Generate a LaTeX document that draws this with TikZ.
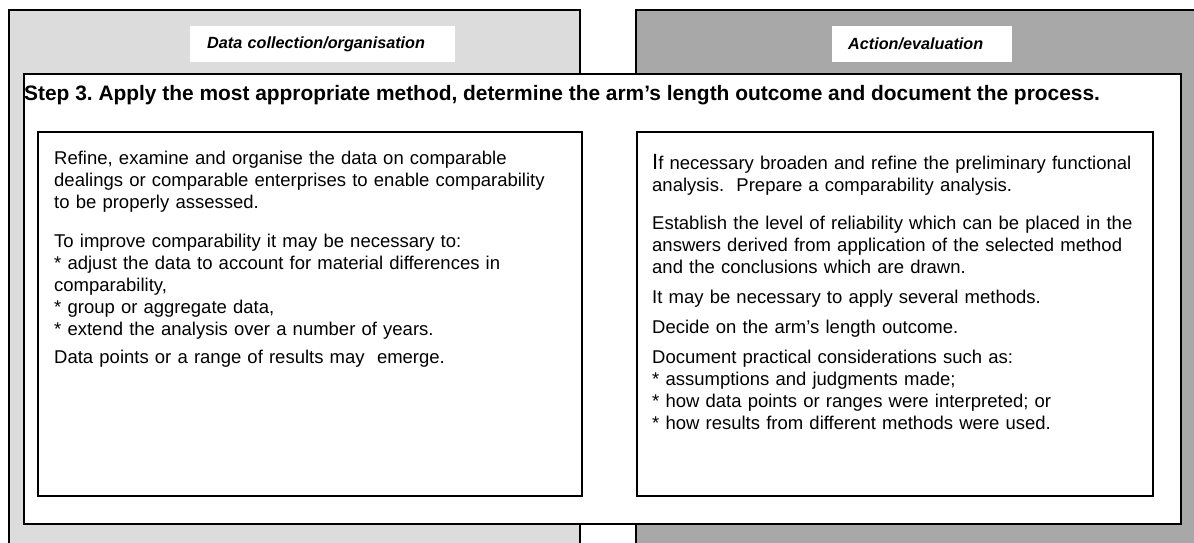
\documentclass[tikz,border=0pt]{standalone}
\usepackage{fontspec}
\setmainfont{Liberation Sans}
\frenchspacing
\definecolor{lightpanel}{HTML}{DCDCDC}
\definecolor{darkpanel}{HTML}{A8A8A8}
\newcommand{\bodysize}{\fontsize{18.5}{22}\selectfont}
\begin{document}
\begin{tikzpicture}[x=1pt,y=-1pt,
  panel/.style={draw=black,line width=1.6pt},
  framebox/.style={draw=black,fill=white,line width=1.6pt,inner sep=0pt,anchor=north west},
  labelbox/.style={fill=white,inner ysep=0pt,minimum height=36pt,anchor=north west,align=left,
     font=\bfseries\itshape\fontsize{16.2}{19}\selectfont},
  bodytext/.style={anchor=base west,inner sep=0pt,align=left,text width=540pt,font=\bodysize}]
\useasboundingbox (0,0) rectangle (1194,542);
\clip (0,0) rectangle (1194,542);
\fill[white] (0,0) rectangle (1194,542);
% background panels
\draw[panel,fill=lightpanel] (9,10) rectangle (580,570);
\draw[panel,fill=darkpanel] (636,10) rectangle (1220,570);
% panel labels
\node[labelbox,inner xsep=17pt,text width=231pt] (lab1) at (190,26) {Data collection/organisation};
\node[labelbox,inner xsep=16pt,text width=148pt] (lab2) at (832,26) {Action/evaluation};
% main frame
\node[framebox,minimum width=1157pt,minimum height=450pt] (main) at (23,73) {};
\node[anchor=base west,inner sep=0pt,font=\bfseries\fontsize{20.9}{24}\selectfont] (title) at (24,100)
  {Step 3. Apply the most appropriate method, determine the arm’s length outcome and document the process.};
% inner boxes
\node[framebox,minimum width=544pt,minimum height=364pt] (left) at (37,131) {};
\node[framebox,minimum width=516pt,minimum height=364pt] (right) at (636,131) {};
% texts
\node[bodytext] (lefttext) at (54,164) {Refine, examine and organise the data on comparable\\
dealings or comparable enterprises to enable comparability\\
to be properly assessed.\par\vspace{17pt}
To improve comparability it may be necessary to:\\{}%
* adjust the data to account for material differences in\\
comparability,\\{}%
* group or aggregate data,\\{}%
* extend the analysis over a number of years.\par\vspace{6pt}
Data points or a range of results may\ \ emerge.};
\node[bodytext] (righttext) at (652,169.5) {{\fontsize{22}{22}\selectfont I}f necessary broaden and refine the preliminary functional\\
analysis.\ \ Prepare a comparability analysis.\par\vspace{16pt}
Establish the level of reliability which can be placed in the\\
answers derived from application of the selected method\\
and the conclusions which are drawn.\par\vspace{8pt}
It may be necessary to apply several methods.\par\vspace{8pt}
Decide on the arm’s length outcome.\par\vspace{8pt}
Document practical considerations such as:\\{}%
* assumptions and judgments made;\\{}%
* how data points or ranges were interpreted; or\\{}%
* how results from different methods were used.};
\end{tikzpicture}
\end{document}
